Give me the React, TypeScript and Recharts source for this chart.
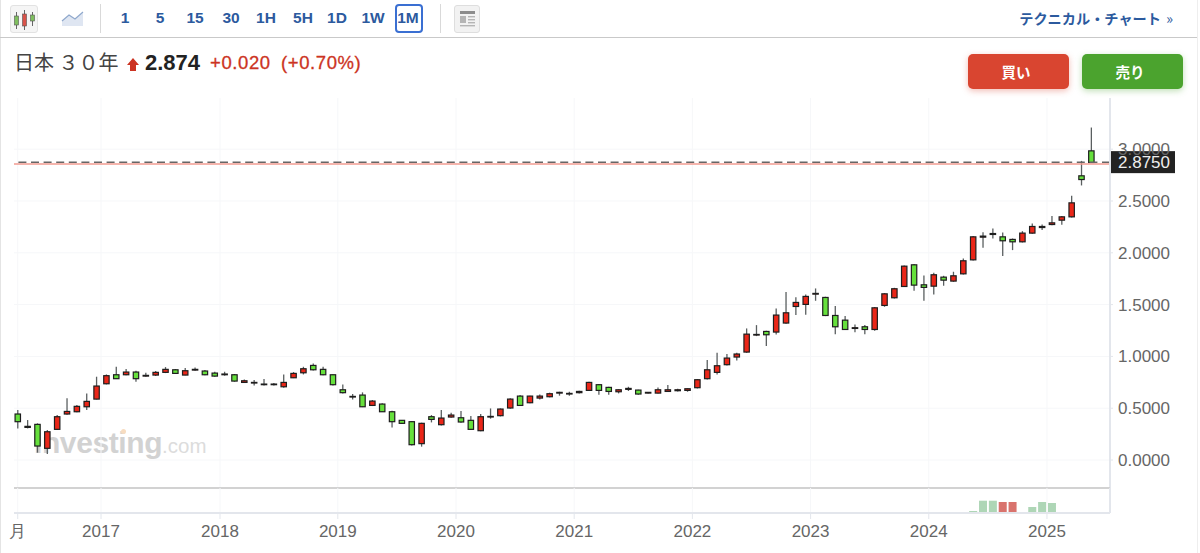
import React from "react";
import {
  ComposedChart,
  Bar,
  XAxis,
  YAxis,
  CartesianGrid,
  ReferenceLine,
} from "recharts";

// monthly candles, Apr 2016 .. May 2025
const opens = [
  0.444, 0.325, 0.344, 0.113, 0.296, 0.444, 0.466, 0.514, 0.588, 0.736,
  0.823, 0.823, 0.849, 0.81, 0.82, 0.846, 0.871, 0.82, 0.868, 0.859,
  0.839, 0.823, 0.823, 0.749, 0.743, 0.727, 0.727, 0.707, 0.794, 0.842,
  0.913, 0.875, 0.823, 0.678, 0.608, 0.627, 0.527, 0.54, 0.466, 0.383,
  0.37, 0.158, 0.418, 0.341, 0.415, 0.408, 0.383, 0.283, 0.415, 0.428,
  0.502, 0.617, 0.553, 0.598, 0.611, 0.646, 0.637, 0.65, 0.672, 0.727,
  0.701, 0.659, 0.682, 0.675, 0.646, 0.646, 0.662, 0.669, 0.672, 0.698,
  0.785, 0.846, 0.92, 0.994, 1.042, 1.206, 1.241, 1.235, 1.322, 1.482,
  1.502, 1.601, 1.569, 1.395, 1.35, 1.27, 1.286, 1.26, 1.492, 1.566,
  1.675, 1.884, 1.691, 1.678, 1.765, 1.727, 1.797, 1.932, 2.151, 2.177,
  2.154, 2.129, 2.106, 2.19, 2.244, 2.273, 2.315, 2.347, 2.743, 2.984,
];
const closes = [
  0.37, 0.315, 0.135, 0.273, 0.418, 0.469, 0.518, 0.566, 0.714, 0.814,
  0.785, 0.849, 0.785, 0.817, 0.846, 0.875, 0.836, 0.862, 0.875, 0.823,
  0.81, 0.83, 0.762, 0.765, 0.749, 0.733, 0.733, 0.749, 0.836, 0.881,
  0.871, 0.823, 0.727, 0.65, 0.614, 0.514, 0.569, 0.466, 0.37, 0.354,
  0.148, 0.354, 0.392, 0.405, 0.434, 0.367, 0.296, 0.418, 0.421, 0.492,
  0.588, 0.527, 0.617, 0.617, 0.64, 0.653, 0.643, 0.662, 0.749, 0.672,
  0.662, 0.678, 0.691, 0.637, 0.653, 0.678, 0.678, 0.678, 0.688, 0.775,
  0.871, 0.91, 0.984, 1.023, 1.215, 1.212, 1.209, 1.399, 1.421, 1.521,
  1.579, 1.608, 1.395, 1.286, 1.26, 1.277, 1.26, 1.469, 1.604, 1.653,
  1.871, 1.688, 1.666, 1.788, 1.736, 1.778, 1.923, 2.154, 2.161, 2.186,
  2.116, 2.106, 2.19, 2.254, 2.254, 2.289, 2.347, 2.482, 2.707, 2.871,
];
const highs = [
  0.482, 0.386, 0.354, 0.289, 0.434, 0.595, 0.531, 0.643, 0.804, 0.826,
  0.9, 0.878, 0.862, 0.842, 0.859, 0.897, 0.878, 0.887, 0.894, 0.868,
  0.852, 0.852, 0.83, 0.778, 0.772, 0.781, 0.743, 0.826, 0.849, 0.9,
  0.932, 0.9, 0.826, 0.73, 0.637, 0.653, 0.579, 0.547, 0.476, 0.386,
  0.376, 0.36, 0.434, 0.482, 0.457, 0.473, 0.424, 0.444, 0.498, 0.498,
  0.595, 0.627, 0.621, 0.633, 0.65, 0.659, 0.659, 0.669, 0.756, 0.733,
  0.707, 0.682, 0.707, 0.678, 0.656, 0.701, 0.723, 0.688, 0.691, 0.781,
  0.965, 1.035, 1.023, 1.035, 1.27, 1.302, 1.248, 1.463, 1.621, 1.572,
  1.598, 1.656, 1.576, 1.486, 1.389, 1.309, 1.302, 1.476, 1.611, 1.662,
  1.878, 1.891, 1.781, 1.807, 1.778, 1.817, 1.945, 2.161, 2.199, 2.235,
  2.196, 2.138, 2.209, 2.283, 2.273, 2.354, 2.354, 2.55, 2.887, 3.209,
];
const lows = [
  0.305, 0.305, 0.071, 0.058, 0.289, 0.437, 0.46, 0.482, 0.585, 0.73,
  0.781, 0.817, 0.756, 0.804, 0.81, 0.839, 0.83, 0.817, 0.862, 0.817,
  0.804, 0.814, 0.756, 0.743, 0.72, 0.72, 0.72, 0.698, 0.791, 0.826,
  0.865, 0.817, 0.72, 0.643, 0.585, 0.511, 0.521, 0.463, 0.315, 0.347,
  0.141, 0.129, 0.363, 0.334, 0.408, 0.36, 0.289, 0.277, 0.399, 0.421,
  0.495, 0.521, 0.547, 0.585, 0.605, 0.621, 0.621, 0.643, 0.666, 0.63,
  0.63, 0.643, 0.666, 0.63, 0.643, 0.643, 0.659, 0.662, 0.659, 0.691,
  0.778, 0.826, 0.913, 0.961, 1.035, 1.196, 1.1, 1.212, 1.315, 1.399,
  1.402, 1.537, 1.389, 1.215, 1.254, 1.232, 1.215, 1.248, 1.479, 1.559,
  1.669, 1.633, 1.537, 1.598, 1.682, 1.72, 1.791, 1.926, 2.048, 2.138,
  1.968, 2.026, 2.1, 2.183, 2.219, 2.267, 2.27, 2.341, 2.65, 2.868,
];

const volumeIndex = [97, 98, 99, 100, 101, 103, 104, 105];
const volumeValues = [20, 123, 123, 110, 110, 60, 110, 100];

const yearTicks = [0, 8.46, 20.54, 32.5, 44.5, 56.5, 68.5, 80.5, 92.5, 104.5];
const yearLabels = ["月", "2017", "2018", "2019", "2020", "2021", "2022", "2023", "2024", "2025"];
const priceTicks = [0, 0.5, 1, 1.5, 2, 2.5, 3];
const intervals = ["1", "5", "15", "30", "1H", "5H", "1D", "1W", "1M"];
const intervalCenters = [125, 160, 195, 231, 266, 303, 337, 373, 408];

const lastPrice = 2.875;
const prevLine = 2.857;

const candles = opens.map((open, i) => ({
  i,
  open,
  close: closes[i],
  high: highs[i],
  low: lows[i],
  range: [lows[i], highs[i]],
}));

const volumes = candles.map((c) => {
  const k = volumeIndex.indexOf(c.i);
  return { i: c.i, volume: k >= 0 ? volumeValues[k] : 0, up: c.close >= c.open };
});

const xDomain = [-0.376, 110.9];
const sans = '"Liberation Sans", Arial, sans-serif';
const jp = '"Noto Sans CJK JP", "Liberation Sans", sans-serif';
const gridColor = "#f6f7f9";
const axisColor = "#e3e6ec";

function Candle(props: any) {
  const { x, y, width, height, payload } = props;
  const top = Math.min(y, y + height);
  const h = Math.abs(height);
  const span = payload.high - payload.low;
  const toY = (v: number) => top + ((payload.high - v) / span) * h;
  const bodyTop = toY(Math.max(payload.open, payload.close));
  const bodyBot = toY(Math.min(payload.open, payload.close));
  const cx = x + width / 2;
  const up = payload.close >= payload.open;
  return (
    <g>
      <line x1={cx} x2={cx} y1={top} y2={top + h} stroke="#5a5f60" strokeWidth={1.3} />
      <rect
        x={cx - 2.7}
        y={bodyTop}
        width={5.4}
        height={Math.max(bodyBot - bodyTop, 0.6)}
        fill={up ? "#ea2618" : "#66e03c"}
        stroke="#1e1e1e"
        strokeWidth={1.2}
      />
    </g>
  );
}

function VolumeBar(props: any) {
  const { x, y, width, height, payload } = props;
  if (!height) return null;
  return <rect x={x} y={y} width={width} height={height} fill={payload.up ? "#aed6b6" : "#d9736d"} />;
}

function PriceTag(props: any) {
  const { viewBox } = props;
  const right = viewBox.x + viewBox.width;
  return (
    <g>
      <rect x={right} y={viewBox.y - 11} width={65} height={22} fill="#222222" />
      <text x={right + 34} y={viewBox.y + 6} textAnchor="middle" fill="#eeeeee" fontSize={17} fontFamily={sans}>
        2.8750
      </text>
    </g>
  );
}

function CandleIcon() {
  return (
    <svg width={28} height={28} style={{ position: "absolute", left: 10, top: 5, background: "#f5f5f5", border: "1px solid #e2e2e2", borderRadius: 3, boxSizing: "border-box" }}>
      <line x1={5.5} x2={5.5} y1={6} y2={23} stroke="#666" />
      <rect x={3.5} y={10} width={4} height={9} fill="#7fbf5f" stroke="#555" strokeWidth={0.6} />
      <line x1={13.5} x2={13.5} y1={4} y2={24} stroke="#666" />
      <rect x={11.5} y={8} width={4} height={12} fill="#d9534a" stroke="#555" strokeWidth={0.6} />
      <line x1={21.5} x2={21.5} y1={6} y2={20} stroke="#666" />
      <rect x={19.5} y={9} width={4} height={6} fill="#7fbf5f" stroke="#555" strokeWidth={0.6} />
    </svg>
  );
}

function AreaIcon() {
  return (
    <svg width={24} height={18} style={{ position: "absolute", left: 61, top: 10 }}>
      <path d="M1 11 L8 5 L14 9 L22 2 L22 16 L1 16 Z" fill="#dfe6f2" />
      <path d="M1 11 L8 5 L14 9 L22 2" fill="none" stroke="#8fa8cc" strokeWidth={1.2} />
    </svg>
  );
}

function NewsIcon() {
  return (
    <svg width={26} height={28} style={{ position: "absolute", left: 454, top: 5, background: "#f2f2f2", border: "1px solid #dedede", borderRadius: 3, boxSizing: "border-box" }}>
      <rect x={5} y={5} width={15} height={3} fill="#8c8c8c" />
      <rect x={5} y={10} width={6} height={7} fill="#b5b5b5" />
      <rect x={13} y={10} width={7} height={1.4} fill="#b5b5b5" />
      <rect x={13} y={13} width={7} height={1.4} fill="#b5b5b5" />
      <rect x={13} y={16} width={7} height={1.4} fill="#b5b5b5" />
      <rect x={5} y={19} width={15} height={1.4} fill="#b5b5b5" />
    </svg>
  );
}

function Toolbar() {
  return (
    <>
      <CandleIcon />
      <AreaIcon />
      <div style={{ position: "absolute", left: 100, top: 4, width: 1, height: 29, background: "#d9d9d9" }} />
      {intervals.map((label, i) => (
        <div
          key={label}
          style={{
            position: "absolute",
            left: intervalCenters[i] - 20,
            width: 40,
            top: 8,
            textAlign: "center",
            color: "#2c5a9e",
            fontFamily: sans,
            fontWeight: 700,
            fontSize: 15.5,
            lineHeight: "20px",
          }}
        >
          {label}
        </div>
      ))}
      <div style={{ position: "absolute", left: 395, top: 4, width: 28, height: 29, border: "2px solid #3a6fd2", borderRadius: 4, boxSizing: "border-box" }} />
      <div style={{ position: "absolute", left: 440, top: 4, width: 1, height: 29, background: "#d9d9d9" }} />
      <NewsIcon />
      <div style={{ position: "absolute", right: 27, top: 8, color: "#2c5a9e", fontFamily: jp, fontWeight: 700, fontSize: 14.2, lineHeight: "20px", whiteSpace: "nowrap" }}>
        テクニカル・チャート <span style={{ fontWeight: 400, marginLeft: 2 }}>»</span>
      </div>
      <div style={{ position: "absolute", left: 0, top: 37, width: 1197, height: 1, background: "#c9c9c9" }} />
    </>
  );
}

function Header() {
  return (
    <>
      <div style={{ position: "absolute", left: 14, top: 49, fontFamily: jp, fontSize: 20, lineHeight: "26px", color: "#444444", whiteSpace: "nowrap" }}>
        日本 ３０年
      </div>
      <svg width={12} height={13} style={{ position: "absolute", left: 127, top: 58 }}>
        <path d="M6 0 L12 7 L9 7 L9 13 L3 13 L3 7 L0 7 Z" fill="#cc3322" />
      </svg>
      <div style={{ position: "absolute", left: 145, top: 50, fontFamily: sans, fontWeight: 700, fontSize: 22, lineHeight: "26px", color: "#222222" }}>2.874</div>
      <div style={{ position: "absolute", left: 210, top: 50, fontFamily: sans, fontSize: 18.5, lineHeight: "26px", letterSpacing: 0.6, WebkitTextStroke: "0.3px #cc3322", color: "#cc3322", whiteSpace: "nowrap" }}>+0.020</div>
      <div style={{ position: "absolute", left: 281, top: 50, fontFamily: sans, fontSize: 18.5, lineHeight: "26px", letterSpacing: 0.6, WebkitTextStroke: "0.3px #cc3322", color: "#cc3322", whiteSpace: "nowrap" }}>(+0.70%)</div>
      <div style={{ position: "absolute", left: 968, top: 54, width: 96, paddingRight: 5, height: 35, background: "#d94530", borderRadius: 5, boxShadow: "0 2px 6px rgba(217,69,48,0.35)", color: "#fff", fontFamily: jp, fontWeight: 700, fontSize: 14.5, lineHeight: "35px", textAlign: "center" }}>買い</div>
      <div style={{ position: "absolute", left: 1082, top: 54, width: 96, paddingRight: 5, height: 35, background: "#4ba32e", borderRadius: 5, boxShadow: "0 2px 6px rgba(75,163,46,0.35)", color: "#fff", fontFamily: jp, fontWeight: 700, fontSize: 14.5, lineHeight: "35px", textAlign: "center" }}>売り</div>
    </>
  );
}

function Watermark() {
  return (
    <>
      <div style={{ position: "absolute", left: 34, top: 425, whiteSpace: "nowrap", fontFamily: sans, lineHeight: "36px", color: "#d2d2d2" }}>
        <span style={{ fontWeight: 700, fontSize: 30, letterSpacing: -0.4 }}>Investing</span>
        <span style={{ fontSize: 20.5, color: "#dcdcdc" }}>.com</span>
      </div>
      <div style={{ position: "absolute", left: 121, top: 429, width: 5, height: 5, borderRadius: 3, background: "#f7dcc0" }} />
    </>
  );
}

export default function App() {
  return (
    <div style={{ position: "fixed", left: 0, top: 0, width: 1200, height: 553, background: "#fff", overflow: "hidden" }}>
      <div style={{ position: "absolute", left: 0, top: 0, width: 1, height: 553, background: "#e4e4e4" }} />
      <div style={{ position: "absolute", left: 1197, top: 0, width: 1, height: 553, background: "#eeeeee" }} />
      <Toolbar />
      <Header />
      <Watermark />

      <div style={{ position: "absolute", left: 0, top: 98 }}>
        <ComposedChart width={1200} height={390} data={candles} margin={{ top: 0, right: 0, bottom: 0, left: 14 }}>
          <CartesianGrid stroke={gridColor} syncWithTicks />
          <XAxis type="number" dataKey="i" domain={xDomain} ticks={yearTicks} allowDataOverflow hide />
          <YAxis
            orientation="right"
            width={90}
            domain={[-0.27, 3.494]}
            ticks={priceTicks}
            allowDataOverflow
            tickFormatter={(v: number) => v.toFixed(4)}
            tick={{ fill: "#666666", fontSize: 17, fontFamily: sans }}
            tickLine={{ stroke: axisColor }}
            tickSize={3}
            tickMargin={5}
            axisLine={{ stroke: axisColor, strokeWidth: 2 }}
          />
          <Bar dataKey="range" barSize={8} shape={<Candle />} isAnimationActive={false} />
          <ReferenceLine y={prevLine} stroke="#f29b90" strokeWidth={1.5} />
          <ReferenceLine y={lastPrice} stroke="#666666" strokeWidth={1.5} strokeDasharray="8 4.6" label={<PriceTag />} />
        </ComposedChart>
      </div>

      <div style={{ position: "absolute", left: 14, top: 486.5, width: 1096, height: 2, background: "#d2d2d2" }} />

      <div style={{ position: "absolute", left: 0, top: 488 }}>
        <ComposedChart width={1200} height={65} data={volumes} margin={{ top: 0, right: 0, bottom: 0, left: 14 }}>
          <CartesianGrid stroke={gridColor} horizontal={false} syncWithTicks />
          <XAxis
            type="number"
            dataKey="i"
            domain={xDomain}
            ticks={yearTicks}
            allowDataOverflow
            height={40}
            interval={0}
            tickFormatter={(v: number) => yearLabels[yearTicks.indexOf(v)]}
            tick={{ fill: "#666666", fontSize: 17, fontFamily: sans }}
            tickLine={{ stroke: axisColor }}
            tickSize={6}
            tickMargin={6}
            axisLine={{ stroke: axisColor, strokeWidth: 2 }}
          />
          <YAxis orientation="right" width={90} domain={[0, 250]} tick={false} tickLine={false} axisLine={{ stroke: axisColor, strokeWidth: 2 }} />
          <Bar dataKey="volume" barSize={8} shape={<VolumeBar />} isAnimationActive={false} />
        </ComposedChart>
      </div>
    </div>
  );
}
